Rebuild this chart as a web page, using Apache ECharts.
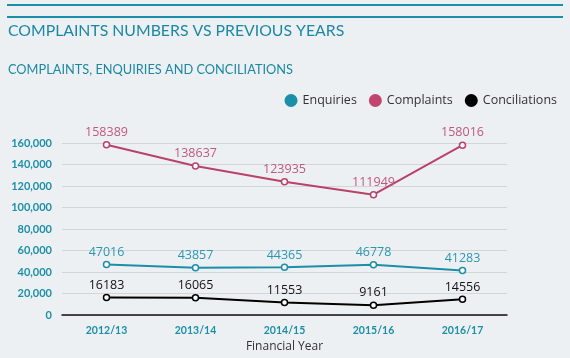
<!DOCTYPE html>
<html><head><meta charset="utf-8">
<script src="https://cdn.jsdelivr.net/npm/echarts@6/dist/echarts.min.js"></script>
<style>html,body{margin:0;padding:0;background:#edf0f2;}#c{width:570px;height:358px;}</style>
</head><body><div id="c"></div>
<script>
const categories = ['2012/13','2013/14','2014/15','2015/16','2016/17'];
const enquiries = [47016, 43857, 44365, 46778, 41283];
const complaints = [158389, 138637, 123935, 111949, 158016];
const conciliations = [16183, 16065, 11553, 9161, 14556];
const yTicks = [0, 20000, 40000, 60000, 80000, 100000, 120000, 140000, 160000];

const chart = echarts.init(document.getElementById('c'));
const teal = '#1b8fa8';
function mk(name, data, color, labelColor) {
  return {
    name, type: 'line', data,
    symbol: 'circle', symbolSize: 6,
    itemStyle: { color: '#ffffff', borderColor: color, borderWidth: 1.5 },
    lineStyle: { color, width: 2 },
    label: { show: true, position: 'top', distance: 2, color: labelColor, fontSize: 12.5, fontFamily: 'Open Sans' },
    emphasis: { disabled: true }
  };
}
chart.setOption({
  backgroundColor: '#edf0f2',
  animation: false,
  title: [
    { text: 'COMPLAINTS NUMBERS VS PREVIOUS YEARS', left: 3, top: 18, textStyle: { color: '#1b88a3', fontSize: 15.8, fontWeight: 'normal', fontFamily: 'Lato' } },
    { text: 'COMPLAINTS, ENQUIRIES AND CONCILIATIONS', left: 3, top: 58.5, textStyle: { color: '#1b88a3', fontSize: 12.8, fontWeight: 'normal', fontFamily: 'Lato' } }
  ],
  graphic: [
    { type: 'rect', shape: { x: 7, y: 4, width: 556, height: 2 }, style: { fill: '#1b8fa8' } },
    { type: 'rect', shape: { x: 7, y: 16, width: 556, height: 2 }, style: { fill: '#1b8fa8' } }
  ],
  legend: {
    right: 8, top: 89, itemWidth: 13, itemHeight: 13, itemGap: 12,
    icon: 'circle',
    textStyle: { color: '#333', fontSize: 12.5, fontFamily: 'Open Sans' },
    data: [
      { name: 'Enquiries', itemStyle: { color: '#1b8fa8', borderWidth: 0 } },
      { name: 'Complaints', itemStyle: { color: '#c2456e', borderWidth: 0 } },
      { name: 'Conciliations', itemStyle: { color: '#000000', borderWidth: 0 } }
    ]
  },
  grid: { left: 62, right: 63, top: 143, bottom: 43 },
  xAxis: {
    type: 'category', data: categories, boundaryGap: true,
    axisLine: { lineStyle: { color: '#111', width: 1.5 } },
    axisTick: { show: false },
    axisLabel: { color: teal, fontSize: 10.5, fontWeight: 'bold', fontFamily: 'Lato', margin: 10 },
    name: 'Financial Year', nameLocation: 'middle', nameGap: 26,
    nameTextStyle: { color: '#333', fontSize: 12, fontFamily: 'Open Sans' }
  },
  yAxis: {
    type: 'value', min: 0, max: yTicks[yTicks.length - 1], interval: yTicks[1] - yTicks[0],
    axisLine: { show: false }, axisTick: { show: false },
    splitLine: { lineStyle: { color: '#d3d6d8', width: 1 } },
    axisLabel: { color: teal, fontSize: 11, fontWeight: 'bold', fontFamily: 'Lato', margin: 10,
      formatter: v => v.toLocaleString('en-US') }
  },
  series: [
    mk('Enquiries', enquiries, '#1b8fa8', '#2a97b1'),
    mk('Complaints', complaints, '#b9416a', '#c0587d'),
    mk('Conciliations', conciliations, '#000000', '#111111')
  ]
});
</script></body></html>
